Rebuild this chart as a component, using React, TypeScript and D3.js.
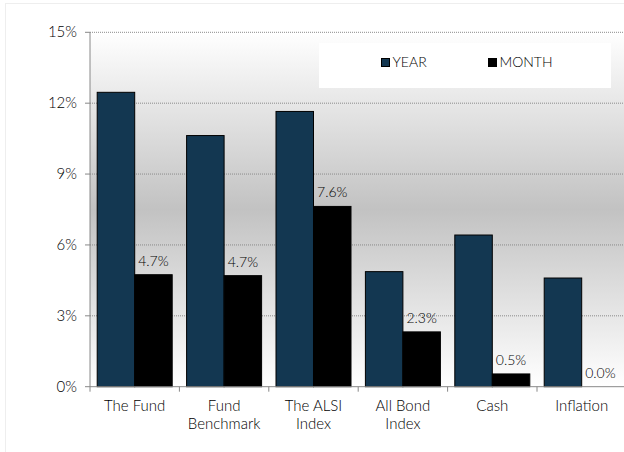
import React from "react";
import * as d3 from "d3";

const categories = ["The Fund", "Fund\nBenchmark", "The ALSI\nIndex", "All Bond\nIndex", "Cash", "Inflation"];
const seriesNames = ["YEAR", "MONTH"];
const yearValues = [12.46, 10.63, 11.65, 4.87, 6.42, 4.6];
const monthValues = [4.74, 4.7, 7.63, 2.32, 0.54, 0.0];
const monthLabels = ["4.7%", "4.7%", "7.6%", "2.3%", "0.5%", "0.0%"];
const yTicks = [0, 3, 6, 9, 12, 15];

const W = 624;
const H = 452;
const FONT = "Lato, 'Open Sans', sans-serif";
const NAVY = "#133751";

export default function App() {
  const left = 90;
  const right = 626.4;
  const top = 32.3;
  const bottom = 386.7;
  const x = d3.scaleBand<string>().domain(categories).range([left, right]).paddingInner(0).paddingOuter(0);
  const bw = x.bandwidth();
  const xs = d3.scaleBand<string>().domain(seriesNames).range([0, bw]).paddingInner(0).paddingOuter(0.192);
  const y = d3.scaleLinear().domain([0, 15]).range([bottom, top]);
  const colors: Record<string, string> = { YEAR: NAVY, MONTH: "#000000" };
  const data = categories.map((c, i) => ({ c, YEAR: yearValues[i], MONTH: monthValues[i], label: monthLabels[i] }));

  return (
    <svg width={W} height={H} style={{ position: "absolute", left: 0, top: 0, background: "#fff" }} fontFamily={FONT} fontWeight={300}>
      <defs>
        <linearGradient id="plotbg" x1="0" y1="0" x2="0" y2="1">
          <stop offset="0" stopColor="#ffffff" />
          <stop offset="0.5" stopColor="#c2c2c2" />
          <stop offset="1" stopColor="#ffffff" />
        </linearGradient>
      </defs>
      <rect x={0} y={0} width={W} height={H} fill="#fff" />
      <rect x={5.5} y={3.5} width={W} height={H} fill="none" stroke="#eeeeee" />
      <rect x={left} y={top} width={right - left} height={bottom - top} fill="url(#plotbg)" />
      {yTicks.filter((t) => t > 0).map((t) => (
        <line key={t} x1={left} x2={right} y1={y(t)} y2={y(t)} stroke="#8a8a8a" strokeDasharray="1,1" strokeWidth={1} />
      ))}
      {/* legend */}
      <rect x={319} y={43} width={292} height={45} fill="#fff" />
      {seriesNames.map((s, i) => {
        const lx = i === 0 ? 381.5 : 488.5;
        return (
          <g key={s}>
            <rect x={lx} y={58.5} width={8} height={8} fill={colors[s]} stroke="#000" strokeWidth={1} />
            <text x={lx + 11} y={67} fontSize={14} fill="#000">{s}</text>
          </g>
        );
      })}
      {/* bars */}
      {data.map((d) => (
        <g key={d.c} transform={`translate(${x(d.c)},0)`}>
          {seriesNames.map((s) => {
            const v = (d as any)[s] as number;
            return (
              <rect key={s} x={xs(s)!} y={y(v)} width={xs.bandwidth()} height={y(0) - y(v)} fill={colors[s]} stroke="#000" strokeWidth={1} />
            );
          })}
          <text x={xs("MONTH")! + xs.bandwidth() / 2} y={y(d.MONTH) - 9} textAnchor="middle" fontSize={14} fill="#000">{d.label}</text>
        </g>
      ))}
      {/* axes */}
      <line x1={left} x2={left} y1={top} y2={bottom} stroke="#888" />
      <line x1={left} x2={right} y1={bottom} y2={bottom} stroke="#888" />
      {yTicks.map((t) => (
        <g key={t}>
          <line x1={left - 5} x2={left} y1={y(t)} y2={y(t)} stroke="#888" />
          <text x={77} y={y(t) + 5} textAnchor="end" fontSize={15} fill="#000">{t}%</text>
        </g>
      ))}
      {categories.map((c) => (
        <g key={c}>
          <line x1={x(c)!} x2={x(c)!} y1={bottom} y2={bottom + 5} stroke="#888" />
          {c.split("\n").map((ln, j) => (
            <text key={j} x={x(c)! + bw / 2} y={411 + j * 18} textAnchor="middle" fontSize={15} fill="#000">{ln}</text>
          ))}
        </g>
      ))}
    </svg>
  );
}
